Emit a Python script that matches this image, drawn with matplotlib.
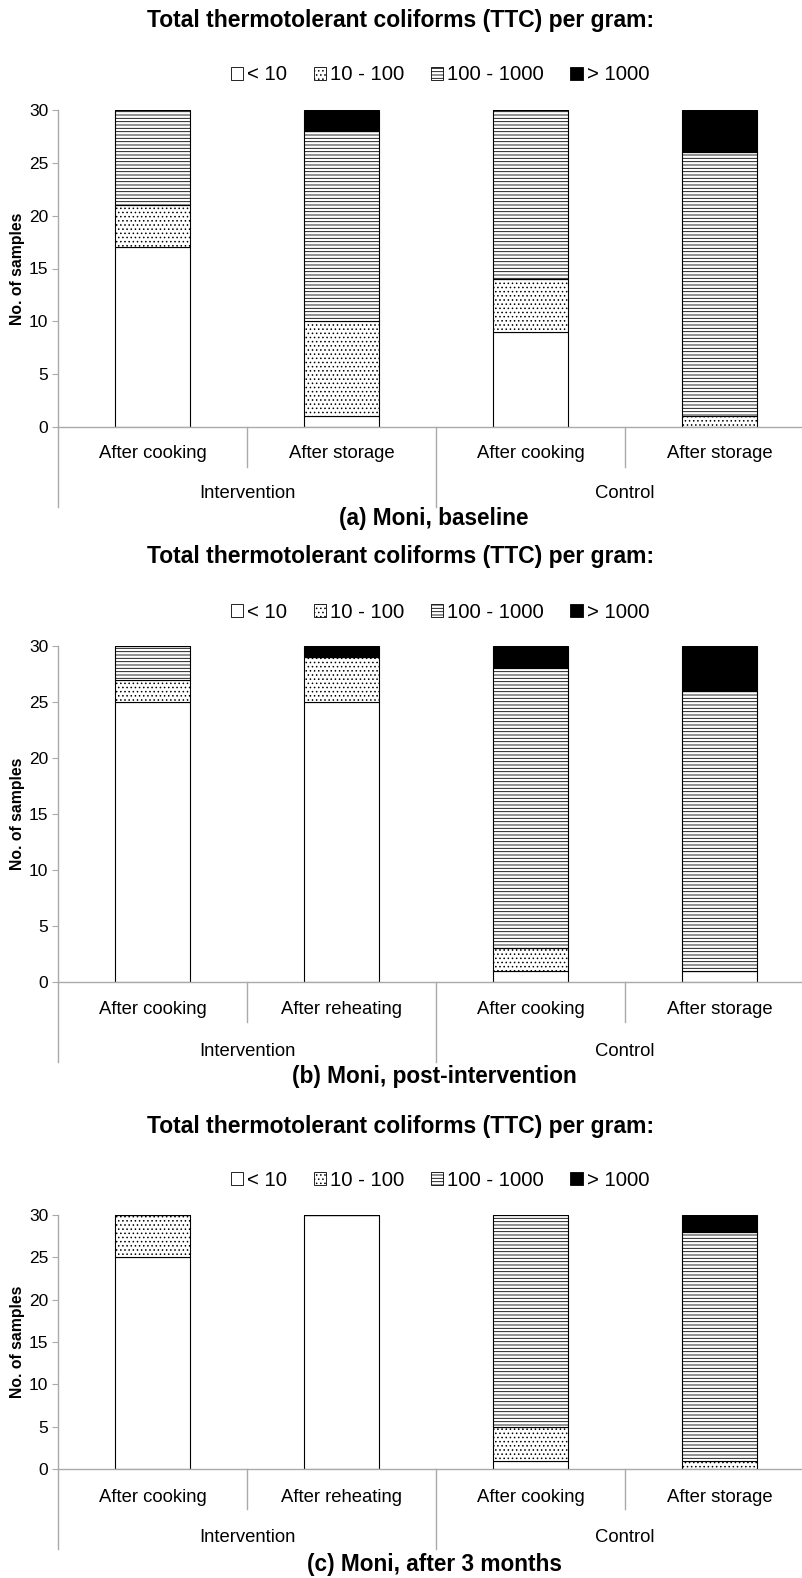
import numpy as np
import matplotlib
matplotlib.use('Agg')
import matplotlib.pyplot as plt
import matplotlib.transforms as mtransforms
from matplotlib.patches import Patch

plt.rcParams['font.family'] = ['Liberation Sans', 'DejaVu Sans']
plt.rcParams['hatch.linewidth'] = 0.6

# data (number of samples per TTC class)
classes = ['< 10', '10 - 100', '100 - 1000', '> 1000']
groups = ['Intervention', 'Control']
cats_a = ['After cooking', 'After storage', 'After cooking', 'After storage']
cats_bc = ['After cooking', 'After reheating', 'After cooking', 'After storage']

lt10_a = [17, 1, 9, 0]
c10_100_a = [4, 9, 5, 1]
c100_1000_a = [9, 18, 16, 25]
gt1000_a = [0, 2, 0, 4]

lt10_b = [25, 25, 1, 1]
c10_100_b = [2, 4, 2, 0]
c100_1000_b = [3, 0, 25, 25]
gt1000_b = [0, 1, 2, 4]

lt10_c = [25, 30, 1, 0]
c10_100_c = [5, 0, 4, 1]
c100_1000_c = [0, 0, 25, 27]
gt1000_c = [0, 0, 0, 2]

W, H = 802, 1578
fig = plt.figure(figsize=(W / 100, H / 100), dpi=100)

styles = [dict(color='white', hatch=None),
          dict(color='white', hatch='....'),
          dict(color='white', hatch='-----'),
          dict(color='black', hatch=None)]


def fy(px):
    return 1 - px / H


def panel(top, bottom, title_y, leg_y, cat_y, grp_y, cap_y, cats, series, caption):
    left, right = 58, 814
    ax = fig.add_axes([left / W, fy(bottom), (right - left) / W, (bottom - top) / H])
    x = np.arange(4)
    base = np.zeros(4)
    for vals, st in zip(series, styles):
        ax.bar(x, vals, 0.4, bottom=base, color=st['color'], hatch=st['hatch'],
               edgecolor='black', linewidth=0.8)
        base = base + np.array(vals)
    ax.set_xlim(-0.5, 3.5)
    ax.set_ylim(0, 30)
    ax.set_yticks(range(0, 31, 5))
    ax.set_xticks([])
    for s in ['top', 'right']:
        ax.spines[s].set_visible(False)
    for s in ['left', 'bottom']:
        ax.spines[s].set_color('#aaaaaa')
        ax.spines[s].set_linewidth(1.0)
    ax.tick_params(axis='y', colors='#aaaaaa', labelcolor='black', labelsize=12.5,
                   length=4, pad=3)
    ax.set_ylabel('No. of samples', fontsize=11.3, fontweight='bold', labelpad=3)

    # category separators below the axis
    h = bottom - top
    for xs, depth in [(-0.5, 80), (0.5, 40), (1.5, 80), (2.5, 40)]:
        ax.plot([xs, xs], [0, -depth / h], transform=ax.get_xaxis_transform(),
                color='#aaaaaa', lw=1.0, clip_on=False)
    tr = mtransforms.blended_transform_factory(ax.transData, fig.transFigure)
    for xi, c in zip(x, cats):
        ax.text(xi, fy(cat_y), c, transform=tr, ha='center', va='center', fontsize=13.3)
    for gi, g in enumerate(groups):
        ax.text(0.5 + 2 * gi, fy(grp_y), g, transform=tr, ha='center', va='center',
                fontsize=13.3)

    fig.text(0.5, fy(title_y), 'Total thermotolerant coliforms (TTC) per gram:',
             ha='center', va='center', fontsize=16.5, fontweight='bold')
    fig.text(434 / W, fy(cap_y), caption, ha='center', va='center',
             fontsize=16.3, fontweight='bold')
    handles = [Patch(facecolor=st['color'], hatch=st['hatch'], edgecolor='black', lw=0.6)
               for st in styles]
    fig.legend(handles, classes, loc='center', bbox_to_anchor=(440 / W, fy(leg_y)),
               ncol=4, frameon=False, fontsize=14.7, handlelength=0.6, handleheight=0.6,
               handletextpad=0.2, columnspacing=1.3)
    return ax


panel(110, 427, 21, 75, 453, 493, 518, cats_a,
      [lt10_a, c10_100_a, c100_1000_a, gt1000_a], '(a) Moni, baseline')
panel(646, 982, 556, 612, 1010, 1051, 1077, cats_bc,
      [lt10_b, c10_100_b, c100_1000_b, gt1000_b], '(b) Moni, post-intervention')
panel(1215, 1469, 1126, 1180, 1497, 1537, 1565, cats_bc,
      [lt10_c, c10_100_c, c100_1000_c, gt1000_c], '(c) Moni, after 3 months')

fig.savefig('out.png', dpi=100)
